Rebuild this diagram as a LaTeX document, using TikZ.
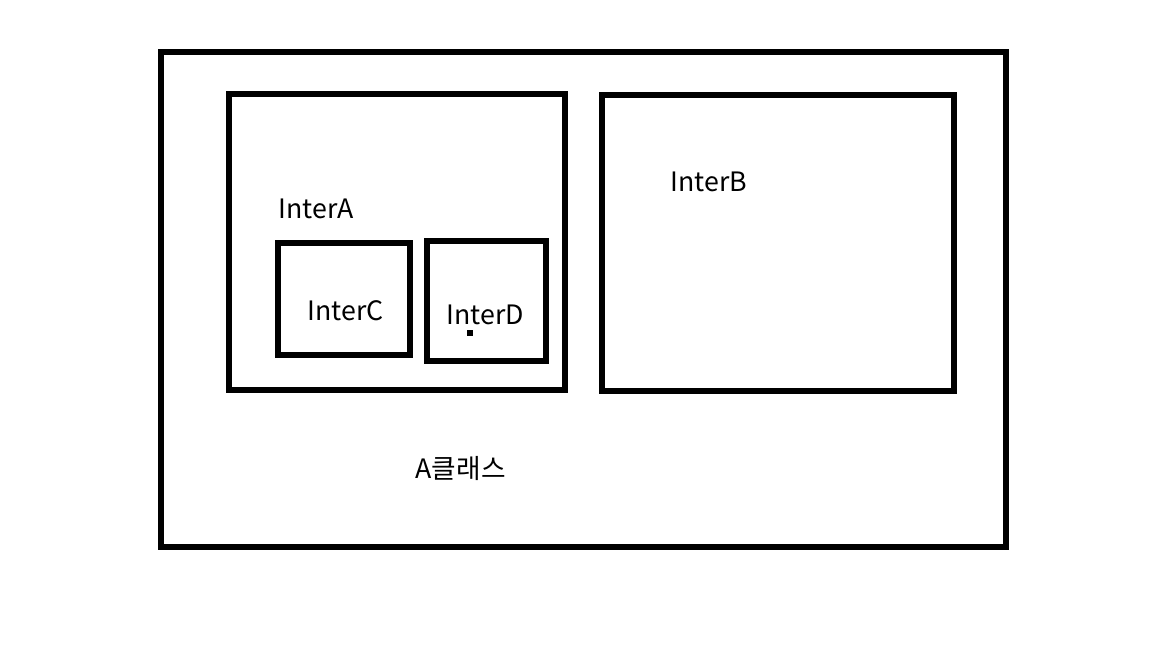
\documentclass[tikz,border=0pt]{standalone}
\usepackage{fontspec}
\setmainfont{Noto Sans CJK KR}
\usetikzlibrary{positioning}

\begin{document}
\begin{tikzpicture}[box/.style={line width=1.45pt}, lbl/.style={anchor=west, inner sep=0pt, font=\fontsize{7.6}{9}\selectfont}]
                \useasboundingbox (0,0) rectangle (11.52,6.48);

                % Outer class
                \draw[box] (1.61,1.01) rectangle (10.06,5.96);
                \node[lbl] (classA) at (4.15,1.79) {A클래스};

                % InterA with nested InterC and InterD
                \draw[box] (2.29,2.58) rectangle (5.65,5.54);
                \node[lbl] (interA) at (2.78,4.39) {InterA};
                \draw[box] (2.78,2.93) rectangle (4.10,4.05);
                \node[lbl] (interC) at (3.07,3.37) {InterC};
                \draw[box] (4.27,2.87) rectangle (5.46,4.07);
                \node[lbl] (interD) at (4.46,3.33) {InterD};
                \fill (4.67,3.12) rectangle (4.73,3.18);

                % InterB
                \draw[box] (6.02,2.57) rectangle (9.54,5.53);
                \node[lbl] (interB) at (6.70,4.66) {InterB};
            \end{tikzpicture}
\end{document}
